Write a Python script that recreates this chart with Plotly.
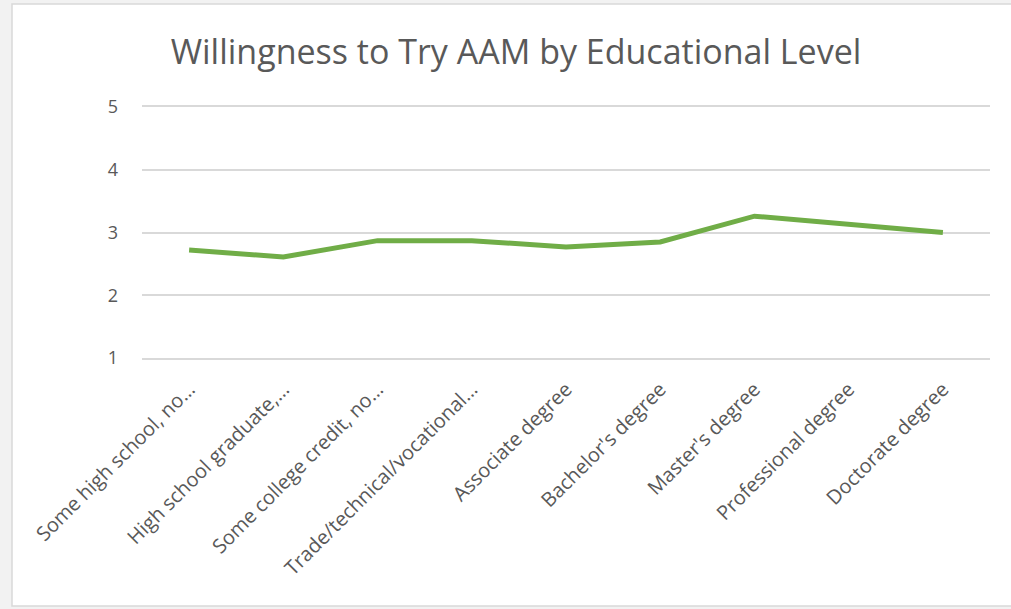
import plotly.graph_objects as go

# Mean willingness score per education level
categories = [
    "Some high school, no…",
    "High school graduate,…",
    "Some college credit, no…",
    "Trade/technical/vocational…",
    "Associate degree",
    "Bachelor's degree",
    "Master's degree",
    "Professional degree",
    "Doctorate degree",
]
willingness = [2.72, 2.61, 2.87, 2.87, 2.77, 2.85, 3.26, 3.14, 3.00]
y_ticks = [1, 2, 3, 4, 5]

W, H = 1011, 609
L, R, T, B = 142, 21, 107, 251
FONT = "Open Sans"
TEXT = "#595959"
GRID = "#d9d9d9"

fig = go.Figure()
fig.add_trace(go.Scatter(
    x=categories,
    y=willingness,
    mode="lines",
    line=dict(color="#70ad47", width=5),
    hoverinfo="x+y",
))


def px_x(p):
    return (p - L) / (W - L - R)


def px_y(p):
    return (H - B - p) / (H - T - B)


# light grey surround and chart-area frame
shapes = [
    dict(type="rect", xref="paper", yref="paper", layer="below",
         x0=px_x(0), x1=px_x(W), y0=px_y(H), y1=px_y(0),
         fillcolor="#f2f2f2", line=dict(width=0)),
    dict(type="rect", xref="paper", yref="paper", layer="below",
         x0=px_x(12), x1=px_x(W + 5), y0=px_y(606), y1=px_y(4),
         fillcolor="white", line=dict(color=GRID, width=1.5)),
]

fig.update_layout(
    width=W,
    height=H,
    margin=dict(l=L, r=R, t=T, b=B),
    paper_bgcolor="white",
    plot_bgcolor="rgba(0,0,0,0)",
    showlegend=False,
    shapes=shapes,
    title=dict(
        text="Willingness to Try AAM by Educational Level",
        x=516 / W, xref="container", xanchor="center",
        y=1 - 52 / H, yref="container", yanchor="middle",
        font=dict(family=FONT, size=34, color=TEXT),
    ),
    font=dict(family=FONT, color=TEXT),
)
# the x axis line (mirrored) supplies the gridlines at 1 and 5
fig.update_xaxes(
    type="category",
    range=[-0.5, len(categories) - 0.5],
    tickangle=-45,
    tickfont=dict(family=FONT, size=20, color=TEXT),
    showgrid=False,
    showline=True,
    mirror=True,
    linecolor=GRID,
    linewidth=1.5,
    ticks="",
    zeroline=False,
    ticklabelstandoff=10,
)
fig.update_yaxes(
    range=[1, 5],
    tickvals=y_ticks,
    tickfont=dict(family=FONT, size=18, color=TEXT),
    showgrid=True,
    gridcolor=GRID,
    gridwidth=1.5,
    showline=False,
    zeroline=False,
    ticks="",
    ticklabelstandoff=23,
)

fig.write_html("out.html")
